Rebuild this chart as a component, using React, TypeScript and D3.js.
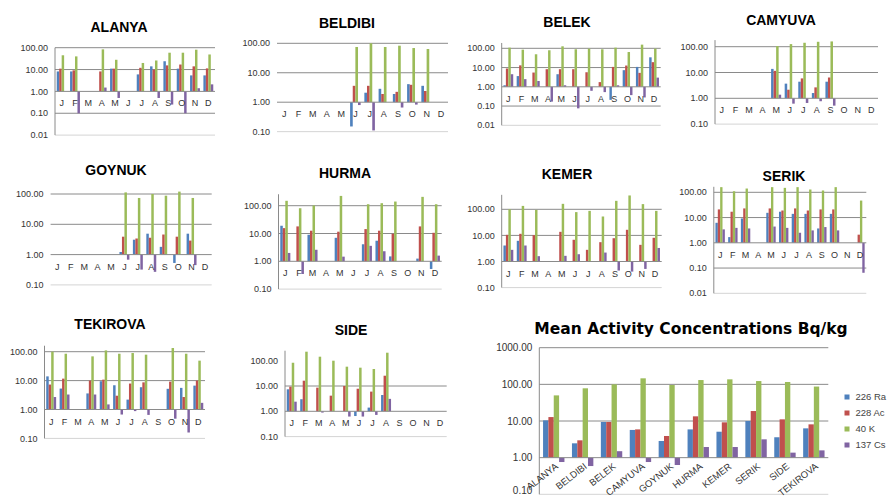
import React from "react";
import * as d3 from "d3";

const N = null;
const months = ["J", "F", "M", "A", "M", "J", "J", "A", "S", "O", "N", "D"];
const seriesNames = ["226 Ra", "228 Ac", "40 K", "137 Cs"];
const colors = ["#4F81BD", "#C0504D", "#9BBB59", "#8064A2"];

// rows: 226 Ra, 228 Ac, 40 K, 137 Cs (Bq/kg), months J..D
const alanya = [
  [8.2, 8.2, N, N, 11, N, 6, 14, 24, 11, 5.4, 5.4],
  [11, 9.2, N, 8.2, 11, N, 12, 10, 15.5, 17, 14, 11.3],
  [45, 40, N, 84, 28, N, 20, 26, 59, 59, 81, 49],
  [N, 0.1, N, 1.5, 0.5, N, N, 0.5, 0.25, 0.1, 1.4, 2.1],
];
const beldibi = [
  [N, N, N, N, N, 0.15, 2.1, 2.85, 1.9, 4.1, 3.6, N],
  [N, N, N, N, N, 3.6, 3.6, 1.9, 2.25, 3.9, 2.4, N],
  [N, N, N, N, N, 75, 110, 75, 83, 69, 64, N],
  [N, N, N, N, N, 0.8, 0.11, N, 0.66, 0.83, N, N],
];
const belek = [
  [1.2, 3.6, N, N, 4.5, N, N, N, 0.21, 7.3, 10.8, 34],
  [8.9, 13, 5.5, 8.2, 8.2, 8.2, 5.7, 1.75, 10.8, 12.7, 5.3, 19],
  [108, 85, 49, 79, 127, 89, 96, 89, 108, 64, 155, 96],
  [4.5, 2.5, 2.0, 0.17, 1.2, 0.076, 0.62, 0.53, 1.2, 0.37, 0.28, 3.0],
];
const camyuva = [
  [N, N, N, N, 13.8, 3.7, 4.4, 1.6, 4.4, N, N, N],
  [N, N, N, N, 11.6, 2.15, 5.9, 2.65, 6.4, N, N, N],
  [N, N, N, N, 106, 126, 142, 155, 160, N, N, N],
  [N, N, N, N, 1.38, 0.62, 0.66, 0.77, 0.52, N, N, N],
];
const goynuk = [
  [N, N, N, N, N, 1.22, 3.1, 4.9, 1.8, 0.53, 4.9, N],
  [N, N, N, N, N, 3.9, 3.4, 3.6, 4.6, 3.9, 2.9, N],
  [N, N, N, N, N, 113, 74, 100, 88, 123, 74, N],
  [N, N, N, N, N, 0.68, 0.32, 0.27, N, N, 0.45, N],
];
const hurma = [
  [19, N, 9, N, 7, N, 4.1, 5.5, 1.5, N, 1.25, 0.53],
  [15.6, 18, 12.6, N, 11.6, N, 14.4, 12.6, 9.8, N, 18, 10.6],
  [150, 81, 102, N, 225, N, 113, 123, 141, N, 208, 113],
  [2.0, 0.35, 2.6, N, 1.47, N, 3.6, 2.3, N, N, N, 1.6],
];
const kemer = [
  [4.1, 6.2, N, N, N, N, N, N, N, N, N, N],
  [10.5, 11.5, 10.2, N, 13.7, 6.8, 2.8, 5.5, 7.8, 16.4, 4.35, 8.1],
  [100, 135, 95, N, 162, 78, 87, 53, 211, 339, 158, 87],
  [2.8, 4.1, 1.6, N, 1.65, 1.9, N, 2.2, 0.45, 0.41, 0.52, 3.3],
];
const serik = [
  [6.2, 1.68, 9.2, N, 15.4, 17, 14, 14, 3.7, 14, N, N],
  [21, 17, 23, N, 23, 19, 23, 19, 21, 21, N, 2.1],
  [160, 110, 141, N, 160, 150, 160, 129, 118, 160, N, 47],
  [3.4, 3.9, 3.7, N, 4.4, 3.9, 2.5, 3.1, 4.2, 3.1, N, 0.065],
];
const tekirova = [
  [14, 5.3, N, 3.6, 9.5, 6.9, 2.2, 5.9, N, 5.2, 5.6, 6.7],
  [7.3, 11.7, N, 10, 10.8, 3.0, 7.9, 8.7, N, 9.2, 2.7, 10],
  [100, 85, N, 69, 111, 85, 90, 79, N, 134, 85, 49],
  [2.7, 3.3, N, 3.3, 1.5, 0.67, 0.88, 0.65, N, 0.48, 0.16, 1.7],
];
const side = [
  [7.4, 3.0, N, N, N, 0.65, 1.4, 4.4, N, N, N, N],
  [9.4, 16.2, 8.6, 4.15, 10, 7.8, 6.0, 25.5, N, N, N, N],
  [83, 227, 144, 100, 58, 53, 47, 207, N, N, N, N],
  [2.4, N, 0.89, N, 0.62, 0.62, 0.72, 3.1, N, N, N, N],
];

const sites = ["ALANYA", "BELDIBI", "BELEK", "CAMYUVA", "GOYNUK", "HURMA", "KEMER", "SERIK", "SIDE", "TEKIROVA"];
const meanRa = [10.4, 2.46, 9.4, 5.7, 2.85, 5.9, 5.1, 10, 3.6, 6.3];
const meanAc = [12.8, 2.97, 9.4, 5.9, 3.9, 13.4, 9.2, 18.7, 11.1, 8.1];
const meanK = [50, 78, 100, 146, 96, 131, 137, 123, 116, 87];
const meanCs = [0.76, 0.59, 1.5, 0.76, 0.63, 1.95, 1.95, 3.16, 1.37, 1.58];

type Cfg = {
  title: string;
  data: (number | null)[][];
  cats: string[];
  left: number;
  right: number;
  yRef: number;
  refVal: number;
  decade: number;
  min: number;
  max: number;
  tx: number;
  ty: number;
  axisLine: boolean;
  noGrid?: number[];
  titleSize?: number;
  titleFont?: string;
  tickSize?: number;
  rotate?: boolean;
  topTick: number;
};

const panels: Cfg[] = [
  { title: "ALANYA", data: alanya, cats: months, left: 55, right: 215, yRef: 47.7, refVal: 100, decade: 21.85, min: 0.01, max: 100, tx: 119, ty: 32, axisLine: true, topTick: 100 },
  { title: "BELDIBI", data: beldibi, cats: months, left: 277, right: 448, yRef: 43.3, refVal: 100, decade: 29.45, min: 0.1, max: 100, tx: 347, ty: 28, axisLine: false, topTick: 100 },
  { title: "BELEK", data: belek, cats: months, left: 501.7, right: 660.7, yRef: 48.3, refVal: 100, decade: 19.25, min: 0.01, max: 189, tx: 567, ty: 27, axisLine: true, topTick: 100 },
  { title: "CAMYUVA", data: camyuva, cats: months, left: 715, right: 878, yRef: 46.7, refVal: 100, decade: 25.8, min: 0.1, max: 180, tx: 781, ty: 25, axisLine: true, topTick: 100 },
  { title: "GOYNUK", data: goynuk, cats: months, left: 50.6, right: 211.7, yRef: 194, refVal: 100, decade: 30.3, min: 0.1, max: 120, tx: 116, ty: 175, axisLine: false, topTick: 100 },
  { title: "HURMA", data: hurma, cats: months, left: 278.5, right: 441.7, yRef: 205.7, refVal: 100, decade: 27.8, min: 0.1, max: 258, tx: 345, ty: 178, axisLine: true, topTick: 100 },
  { title: "KEMER", data: kemer, cats: months, left: 501.7, right: 661.7, yRef: 209.3, refVal: 100, decade: 26.1, min: 0.1, max: 358, tx: 567, ty: 179, axisLine: true, topTick: 100 },
  { title: "SERIK", data: serik, cats: months, left: 713.8, right: 866.3, yRef: 192.3, refVal: 100, decade: 25.25, min: 0.01, max: 165, tx: 784, ty: 181, axisLine: true, topTick: 100 },
  { title: "TEKIROVA", data: tekirova, cats: months, left: 44.5, right: 205, yRef: 351.7, refVal: 100, decade: 28.9, min: 0.1, max: 161, tx: 110, ty: 329, axisLine: true, topTick: 100 },
  { title: "SIDE", data: side, cats: months, left: 285, right: 446.7, yRef: 360.7, refVal: 100, decade: 25.3, min: 0.1, max: 248, tx: 351, ty: 335, axisLine: true, noGrid: [100], topTick: 100 },
  {
    title: "Mean Activity Concentrations Bq/kg", data: [meanRa, meanAc, meanK, meanCs], cats: sites,
    left: 539.3, right: 828.3, yRef: 347.7, refVal: 1000, decade: 36.65, min: 0.1, max: 1000, tx: 691, ty: 334,
    axisLine: true, titleSize: 15.5, titleFont: "DejaVu Sans", tickSize: 10, rotate: true, topTick: 1000,
  },
];

const FONT = "'Liberation Sans', Arial, sans-serif";

function Panel({ c }: { c: Cfg }) {
  const yAt = (v: number) => c.yRef - c.decade * Math.log10(v / c.refVal);
  const y = d3.scaleLog().domain([c.min, c.max]).range([yAt(c.min), yAt(c.max)]).clamp(true);
  const n = c.cats.length;
  const x = d3.scaleBand<number>().domain(d3.range(n)).range([c.left, c.right]).paddingInner(0).paddingOuter(0);
  const bw = x.bandwidth();
  const groupW = bw * 0.74;
  const xs = d3.scaleBand<number>().domain([0, 1, 2, 3]).range([0, groupW]);
  const ticks: number[] = [];
  for (let e = Math.round(Math.log10(c.min)); e <= Math.round(Math.log10(c.topTick)); e++) ticks.push(Math.pow(10, e));
  const y1 = y(1);
  const yTop = y(c.max);
  const yBot = y(c.min);
  const fmt = d3.format(".2f");
  return (
    <g>
      <text x={c.tx} y={c.ty} textAnchor="middle" fontFamily={c.titleFont ? `'${c.titleFont}', sans-serif` : FONT} fontWeight="bold" fontSize={c.titleSize || 14} fill="#000">
        {c.title}
      </text>
      {ticks.map((t) => {
        if (t === 1) return null;
        if (c.noGrid && c.noGrid.includes(t)) return null;
        const light = t === c.min;
        return <line key={"g" + t} x1={c.left} x2={c.right} y1={y(t)} y2={y(t)} stroke={light ? "#d4d4d4" : "#8a8a8a"} strokeWidth={1} />;
      })}
      {ticks.map((t) => (
        <text key={"t" + t} x={c.left - 7} y={Math.min(y(t), 490)} dy="0.35em" textAnchor="end" fontFamily={FONT} fontSize={c.tickSize || 9} fill="#333">
          {fmt(t)}
        </text>
      ))}
      {c.data.map((ser, si) =>
        ser.map((v, i) => {
          if (v == null) return null;
          const yv = y(v);
          const x0 = (x(i) as number) + (bw - groupW) / 2 + (xs(si) as number);
          return <rect key={si + "-" + i} x={x0} width={xs.bandwidth()} y={Math.min(yv, y1)} height={Math.abs(yv - y1)} fill={colors[si]} />;
        })
      )}
      <line x1={c.left} x2={c.right} y1={y1} y2={y1} stroke="#8a8a8a" strokeWidth={1} />
      {c.axisLine && <line x1={c.left} x2={c.left} y1={yTop} y2={yBot} stroke="#8a8a8a" strokeWidth={1} />}
      {c.cats.map((cat, i) => {
        const cx = (x(i) as number) + bw / 2;
        if (c.rotate) {
          return (
            <text key={"c" + i} transform={`translate(${cx + 5},${y1 + 10}) rotate(-38)`} textAnchor="end" fontFamily={FONT} fontSize={9.5} fill="#333">
              {cat}
            </text>
          );
        }
        return (
          <text key={"c" + i} x={cx} y={y1 + 15} textAnchor="middle" fontFamily={FONT} fontSize={9} fill="#333">
            {cat}
          </text>
        );
      })}
    </g>
  );
}

function Legend() {
  const ly = d3.scaleBand<number>().domain([0, 1, 2, 3]).range([389, 453]);
  return (
    <g>
      {seriesNames.map((s, i) => {
        const cy = (ly(i) as number) + ly.bandwidth() / 2;
        return (
          <g key={s}>
            <rect x={844.5} y={cy - 2.5} width={5} height={5} fill={colors[i]} />
            <text x={855.5} y={cy} dy="0.35em" fontFamily={FONT} fontSize={9.5} fill="#444">
              {s}
            </text>
          </g>
        );
      })}
    </g>
  );
}

export default function App() {
  return (
    <svg width={888} height={498} style={{ position: "absolute", left: 0, top: 0, background: "#fff" }}>
      <rect x={0} y={0} width={888} height={498} fill="#fff" />
      {panels.map((c) => (
        <Panel key={c.title} c={c} />
      ))}
      <Legend />
    </svg>
  );
}
